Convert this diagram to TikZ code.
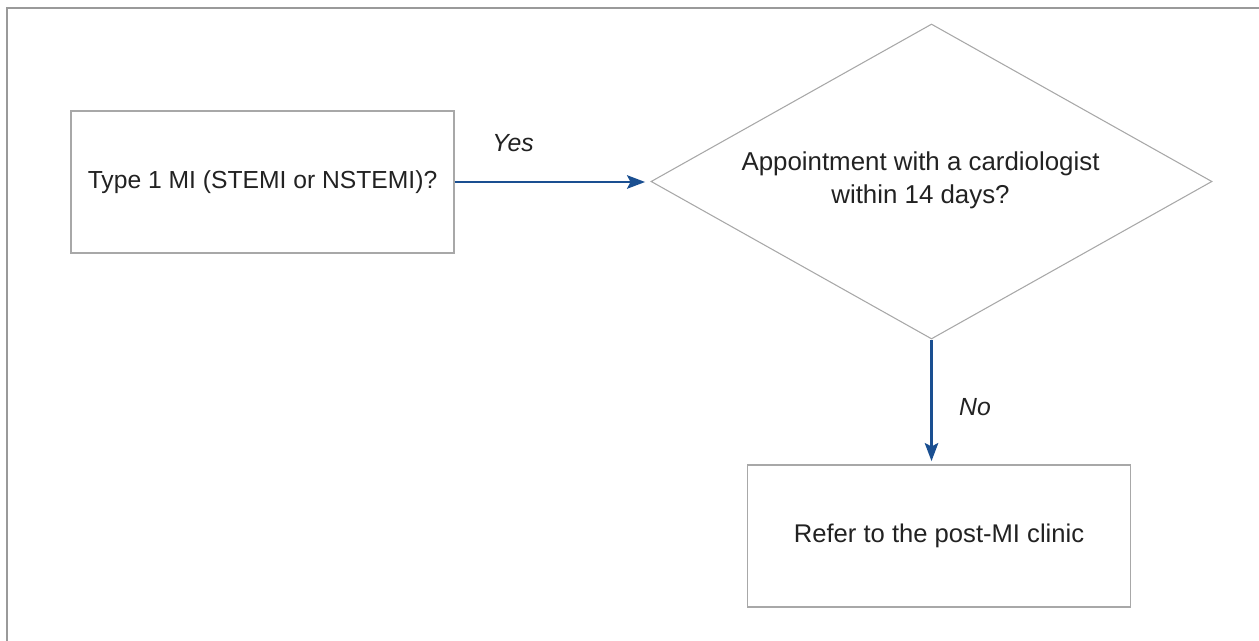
\documentclass[tikz,border=0pt]{standalone}
\usepackage{fontspec}
\setmainfont{Liberation Sans}
\usetikzlibrary{shapes.geometric,arrows.meta}
\definecolor{boxgray}{HTML}{A8A8A8}
\definecolor{framegray}{HTML}{9A9A9A}
\definecolor{arrowblue}{HTML}{1A4F91}
\definecolor{txt}{HTML}{222222}
\tikzset{
  stepbox/.style={draw=boxgray, line width=0.8pt, fill=white, minimum width=383*0.75pt, minimum height=142*0.75pt, inner sep=0pt, text=txt, align=center},
  decision/.style={draw=boxgray, line width=0.8pt, diamond, aspect=1.78, minimum width=561*0.75pt, minimum height=315*0.75pt, inner sep=0pt},
  flow/.style={draw=arrowblue, line width=2.1pt, -{Stealth[length=13.5pt, width=10pt, inset=2.5pt]}},
  lbl/.style={font=\fontsize{18.6}{24}\selectfont\itshape, text=txt, inner sep=0pt},
  plain/.style={text=txt, align=center, inner sep=0pt}
}
\begin{document}
\begin{tikzpicture}[x=0.75pt,y=-0.75pt]
\useasboundingbox (0,0) rectangle (1259,641);
% outer frame (open at right and bottom)
\draw[framegray, line width=1.5pt] (7,641) -- (7,8) -- (1259,8);

\node[stepbox, font=\fontsize{18.5}{24}\selectfont] (q1) at (262.5,182) {Type 1 MI (STEMI or NSTEMI)?};
\node[decision] (d) at (931.5,181.5) {};
\node[plain, font=\fontsize{19.4}{25}\selectfont] (dtext) at (920.5,180.5) {Appointment with a cardiologist\\within 14 days?};
\node[stepbox, font=\fontsize{19.2}{24}\selectfont] (r) at (939,536) {Refer to the post-MI clinic};

\draw[flow] (q1.east) -- ([xshift=-4pt]q1.east -| d.west);
\draw[flow] (d.south) -- ([yshift=2.5pt]d.south |- r.north);

\node[lbl] (yes) at (513,143) {Yes};
\node[lbl] (no) at (975,407) {No};
\end{tikzpicture}
\end{document}
